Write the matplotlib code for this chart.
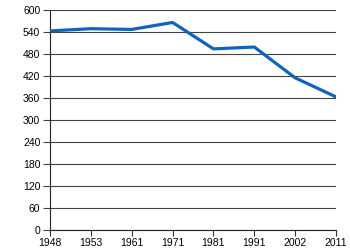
import matplotlib
matplotlib.use("Agg")
import matplotlib.pyplot as plt

years = ["1948", "1953", "1961", "1971", "1981", "1991", "2002", "2011"]
values = [543, 549, 547, 566, 494, 499, 415, 363]
y_ticks = list(range(0, 601, 60))

plt.rcParams['font.family'] = ['Liberation Sans', 'DejaVu Sans']

fig = plt.figure(figsize=(3.5, 2.5), dpi=100)
ax = fig.add_axes([0.143, 0.08, 0.817, 0.88])

x = list(range(len(years)))
ax.plot(x, values, color="#1064c0", linewidth=2.3, solid_joinstyle="miter", zorder=3)

ax.set_xlim(0, len(years) - 1)
ax.set_ylim(0, 600)
ax.set_yticks(y_ticks)
ax.set_xticks(x)
ax.set_xticklabels(years)

# grid lines in dark grey, spine only on the left
ax.yaxis.grid(True, color="#444444", linewidth=0.8)
for side in ["top", "right"]:
    ax.spines[side].set_visible(False)
ax.spines["left"].set_color("#222222")
ax.spines["bottom"].set_color("#222222")

ax.tick_params(axis="y", length=5, width=0.8, color="#444444", labelsize=7.5, pad=2)
ax.tick_params(axis="x", length=4, width=0.8, color="#333333", labelsize=7.5, pad=2)

fig.savefig("out.png", dpi=100)
